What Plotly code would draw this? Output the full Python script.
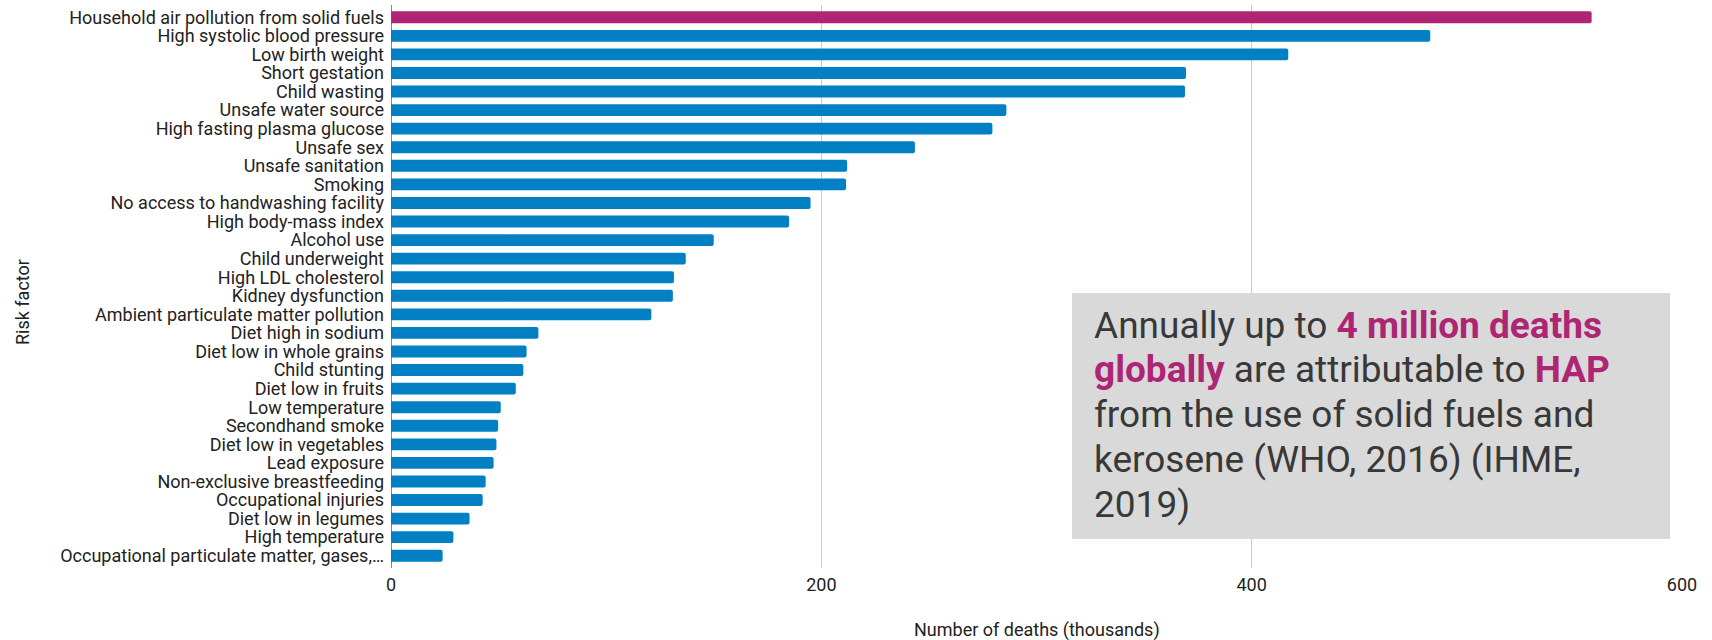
import plotly.graph_objects as go

categories = [
    "Household air pollution from solid fuels",
    "High systolic blood pressure",
    "Low birth weight",
    "Short gestation",
    "Child wasting",
    "Unsafe water source",
    "High fasting plasma glucose",
    "Unsafe sex",
    "Unsafe sanitation",
    "Smoking",
    "No access to handwashing facility",
    "High body-mass index",
    "Alcohol use",
    "Child underweight",
    "High LDL cholesterol",
    "Kidney dysfunction",
    "Ambient particulate matter pollution",
    "Diet high in sodium",
    "Diet low in whole grains",
    "Child stunting",
    "Diet low in fruits",
    "Low temperature",
    "Secondhand smoke",
    "Diet low in vegetables",
    "Lead exposure",
    "Non-exclusive breastfeeding",
    "Occupational injuries",
    "Diet low in legumes",
    "High temperature",
    "Occupational particulate matter, gases,…",
]
deaths_thousands = [558, 483, 417, 369.5, 369, 286, 279.5, 243.5, 212, 211.5,
                    195, 185, 150, 137, 131.5, 131, 121, 68.5, 63, 61.5,
                    58, 51, 49.8, 49, 47.7, 44, 42.6, 36.5, 29, 24]
x_ticks = [0, 200, 400, 600]
highlight = "Household air pollution from solid fuels"

x_title = "Number of deaths (thousands)"
y_title = "Risk factor"
note_lines = [
    "Annually up to <b><span style='color:#ae2673'>4 million deaths</span></b>",
    "<b><span style='color:#ae2673'>globally</span></b> are attributable to <b><span style='color:#ae2673'>HAP</span></b>",
    "from the use of solid fuels and",
    "kerosene (WHO, 2016) (IHME,",
    "2019)",
]

MAGENTA = "#ae2673"
BLUE = "#0380c3"
FONT = "Roboto"
LBL = 18

W, H = 1712, 640
L, R, T, B = 391, 30, 5, 72
plot_h = H - T - B
plot_w = W - L - R

colors = [MAGENTA if c == highlight else BLUE for c in categories]
n = len(categories)
pad = 0.16

fig = go.Figure(go.Bar(
    x=deaths_thousands, y=categories, orientation="h",
    marker=dict(color=colors, cornerradius=2, line=dict(width=0)),
    width=0.64,
    hoverinfo="x+y",
))

fig.update_layout(
    width=W, height=H,
    margin=dict(l=L, r=R, t=T, b=B, pad=0, autoexpand=False),
    paper_bgcolor="white", plot_bgcolor="white",
    font=dict(family=FONT, size=LBL, color="#222222"),
    showlegend=False,
    xaxis=dict(range=[0, 600], tickmode="array", tickvals=x_ticks,
               ticktext=[str(v) for v in x_ticks],
               showgrid=True, gridcolor="#cccccc", gridwidth=1, zeroline=False,
               showline=False, ticks="", tickfont=dict(size=LBL, color="#222222"),
               ticklabelstandoff=4, automargin=False, fixedrange=True),
    yaxis=dict(type="category", categoryorder="array", categoryarray=categories,
               tickmode="array", tickvals=categories, ticktext=categories,
               range=[n - 0.5 + pad, -0.5 - pad],
               showgrid=False, zeroline=False, showline=False, ticks="",
               tickfont=dict(size=LBL, color="#222222"), ticklabelstandoff=6,
               automargin=False, fixedrange=True),
)

# vertical axis line at x=0
fig.add_shape(type="line", xref="x", yref="paper", x0=0, x1=0, y0=0, y1=1,
              line=dict(color="#5f5f5f", width=1.5), layer="above")

# note box
box_x0, box_x1 = (1072 - L) / plot_w, (1670 - L) / plot_w
box_y0, box_y1 = (H - B - 539) / plot_h, (H - B - 293) / plot_h
fig.add_shape(type="rect", xref="paper", yref="paper",
              x0=box_x0, x1=box_x1, y0=box_y0, y1=box_y1,
              fillcolor="#d9d9d9", line=dict(width=0), layer="above")

line_px = [325, 370, 414, 459, 504]
text_x = (1092 - L) / plot_w
for txt, ypx in zip(note_lines, line_px):
    fig.add_annotation(text=txt, xref="paper", yref="paper", x=text_x,
                       y=(H - B - ypx) / plot_h, xanchor="left", yanchor="middle",
                       showarrow=False, align="left",
                       font=dict(family=FONT, size=37, color="#383838"))

# axis titles
fig.add_annotation(text=x_title, xref="paper", yref="paper", x=0.5,
                   y=-(630 - (H - B)) / plot_h, xanchor="center", yanchor="middle",
                   showarrow=False, font=dict(family=FONT, size=LBL, color="#222222"))
fig.add_annotation(text=y_title, xref="paper", yref="paper",
                   x=(22 - L) / plot_w, y=(H - B - 302) / plot_h,
                   xanchor="center", yanchor="middle", textangle=-90,
                   showarrow=False, font=dict(family=FONT, size=LBL, color="#222222"))

fig.write_html("out.html", config={"displayModeBar": False},
               post_script="document.body.style.margin='0';document.body.style.overflow='hidden';")
